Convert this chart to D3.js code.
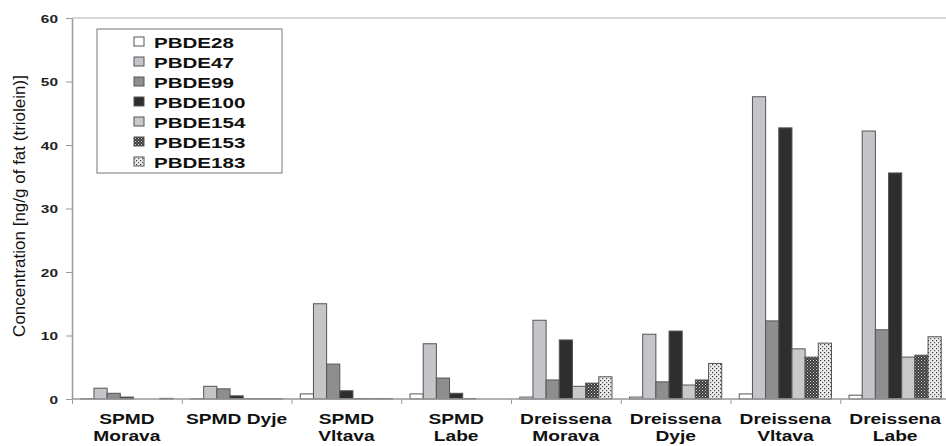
<!DOCTYPE html>
<html><head><meta charset="utf-8">
<script src="https://cdn.jsdelivr.net/npm/d3@7"></script>
<style>body{margin:0;background:#fff}svg{display:block}text{font-family:"Liberation Sans",Arial,sans-serif}</style>
</head><body><svg id="c" width="946" height="446"></svg>
<script>
const categories = [["SPMD","Morava"],["SPMD Dyje"],["SPMD","Vltava"],["SPMD","Labe"],["Dreissena","Morava"],["Dreissena","Dyje"],["Dreissena","Vltava"],["Dreissena","Labe"]];
const seriesNames = ["PBDE28","PBDE47","PBDE99","PBDE100","PBDE154","PBDE153","PBDE183"];
const PBDE28  = [0.05,0.05,0.8,0.8,0.3,0.3,0.8,0.6];
const PBDE47  = [1.7,2.0,15.0,8.7,12.4,10.2,47.6,42.2];
const PBDE99  = [0.9,1.6,5.5,3.3,3.0,2.7,12.3,10.9];
const PBDE100 = [0.3,0.5,1.3,0.9,9.3,10.7,42.7,35.6];
const PBDE154 = [0,0.05,0.08,0.08,2.0,2.2,7.9,6.6];
const PBDE153 = [0,0.05,0.08,0,2.5,3.0,6.6,6.9];
const PBDE183 = [0.1,0.05,0.08,0,3.5,5.6,8.8,9.8];
const seriesValues = [PBDE28,PBDE47,PBDE99,PBDE100,PBDE154,PBDE153,PBDE183];
const yTicks = [0,10,20,30,40,50,60];
const yTitle = "Concentration [ng/g of fat (triolein)]";

const svg = d3.select("#c");
const defs = svg.append("defs");
// PBDE153 dark checker
const p1 = defs.append("pattern").attr("id","p153").attr("patternUnits","userSpaceOnUse").attr("width",3).attr("height",3);
p1.append("rect").attr("width",3).attr("height",3).attr("fill","#3a3a3a");
p1.append("rect").attr("x",0).attr("y",0).attr("width",1).attr("height",1).attr("fill","#d8d8d8");
p1.append("rect").attr("x",1.5).attr("y",1.5).attr("width",1).attr("height",1).attr("fill","#bbbbbb");
// PBDE183 dotted light
const p2 = defs.append("pattern").attr("id","p183").attr("patternUnits","userSpaceOnUse").attr("width",4).attr("height",4);
p2.append("rect").attr("width",4).attr("height",4).attr("fill","#ececec");
p2.append("rect").attr("x",0).attr("y",0).attr("width",1.2).attr("height",1.2).attr("fill","#333");
p2.append("rect").attr("x",2).attr("y",2).attr("width",1.2).attr("height",1.2).attr("fill","#555");
const fills = ["#ffffff","#c5c4c8","#8e8e8e","#2e2e2e","#c9c9c9","url(#p153)","url(#p183)"];

const L=72, R=950, T=18, B=399;
const y = d3.scaleLinear().domain([0,60]).range([B,T]);
const x0 = d3.scaleBand().domain(d3.range(categories.length)).range([L,R]).paddingInner(0.16).paddingOuter(0.08);
const x1 = d3.scaleBand().domain(d3.range(seriesNames.length)).range([0,x0.bandwidth()]);
const xb = d3.scaleLinear().domain([0,categories.length]).range([L,R]);

// top border line
svg.append("line").attr("x1",L).attr("x2",946).attr("y1",y(60)).attr("y2",y(60)).attr("stroke","#c8c8c8").attr("stroke-width",1.5);

// bars
const g = svg.append("g");
categories.forEach((c,ci)=>{
  seriesValues.forEach((vals,si)=>{
    const v = vals[ci];
    if(v<=0) return;
    g.append("rect")
      .attr("x", x0(ci)+x1(si))
      .attr("y", y(v))
      .attr("width", x1.bandwidth())
      .attr("height", Math.max(0.01, y(0)-y(v)))
      .attr("fill", fills[si])
      .attr("stroke", "#555")
      .attr("stroke-width", 1);
  });
});

// y axis
const ya = svg.append("g").attr("transform",`translate(${L},0)`)
  .call(d3.axisLeft(y).tickValues(yTicks).tickSize(6).tickSizeOuter(0));
ya.select(".domain").attr("stroke","#999").attr("stroke-width",1.5);
ya.selectAll(".tick line").attr("stroke","#999");
ya.selectAll(".tick text").attr("x",null).attr("dy",null)
  .attr("transform","translate(-14,4) scale(1.4,1)")
  .attr("font-size",11).attr("font-weight","bold").attr("fill","#222");

// x axis
const xa = svg.append("g").attr("transform",`translate(0,${B})`)
  .call(d3.axisBottom(xb).tickValues(d3.range(categories.length+1)).tickSize(5).tickFormat(""));
xa.select(".domain").attr("stroke","#999").attr("stroke-width",1.5).attr("d",`M${L},0H946`);
xa.selectAll(".tick line").attr("stroke","#999");

// x labels
categories.forEach((c,ci)=>{
  const cx = x0(ci)+x0.bandwidth()/2;
  c.forEach((line,li)=>{
    svg.append("text").attr("transform",`translate(${cx},${424+li*17}) scale(1.37,1)`)
      .attr("text-anchor","middle").attr("font-size",14).attr("font-weight","bold").attr("fill","#111").text(line);
  });
});

// y title
svg.append("text").attr("transform",`translate(25,206) rotate(-90)`)
  .attr("text-anchor","middle").attr("font-size",17).attr("fill","#111").text(yTitle);

// legend
const lg = svg.append("g");
lg.append("rect").attr("x",97).attr("y",29).attr("width",185).attr("height",144).attr("fill","#fff").attr("stroke","#777").attr("stroke-width",1);
seriesNames.forEach((n,i)=>{
  const cy = 42+20*i;
  lg.append("rect").attr("x",134).attr("y",cy-5).attr("width",10).attr("height",9).attr("fill",fills[i]).attr("stroke","#555").attr("stroke-width",1);
  lg.append("text").attr("transform",`translate(154,${cy+5.5}) scale(1.37,1)`)
    .attr("font-size",15).attr("font-weight","bold").attr("fill","#111").text(n);
});
</script></body></html>
